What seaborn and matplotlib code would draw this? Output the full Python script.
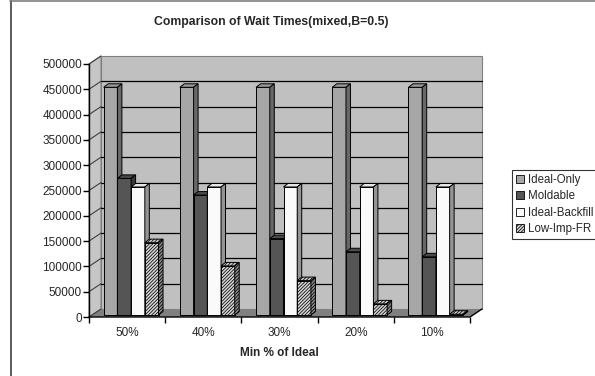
import numpy as np
import pandas as pd
import seaborn as sns
import matplotlib.pyplot as plt
from matplotlib.patches import Polygon, Patch
from matplotlib.lines import Line2D
from matplotlib.transforms import Affine2D, IdentityTransform

# ---- data -------------------------------------------------------------
categories = ["50%", "40%", "30%", "20%", "10%"]
series_names = ["Ideal-Only", "Moldable", "Ideal-Backfill", "Low-Imp-FR"]
ideal_only = [450000, 450000, 450000, 450000, 450000]
moldable = [270000, 237000, 151000, 125000, 115000]
ideal_backfill = [253000, 253000, 253000, 253000, 253000]
low_imp_fr = [143000, 97000, 68000, 22000, 1500]
y_ticks = [0, 50000, 100000, 150000, 200000, 250000, 300000, 350000, 400000, 450000, 500000]

df = pd.DataFrame({
    "category": categories * 4,
    "series": np.repeat(series_names, len(categories)),
    "value": ideal_only + moldable + ideal_backfill + low_imp_fr,
})

front_colors = {"Ideal-Only": "#a6a6a6", "Moldable": "#555555",
                "Ideal-Backfill": "#fafafa", "Low-Imp-FR": "#d8d8d8"}
top_colors = {"Ideal-Only": "#989898", "Moldable": "#4a4a4a",
              "Ideal-Backfill": "#e6e6e6", "Low-Imp-FR": "#d0d0d0"}
side_colors = {"Ideal-Only": "#686868", "Moldable": "#383838",
               "Ideal-Backfill": "#949494", "Low-Imp-FR": "#8a8a8a"}
hatches = {"Low-Imp-FR": "//////////"}

# ---- style --------------------------------------------------------------
sns.set_theme(style="white")
plt.rcParams["font.family"] = ["Liberation Sans", "DejaVu Sans"]
plt.rcParams["hatch.linewidth"] = 0.55

W, H = 595, 376
fig = plt.figure(figsize=(W / 100, H / 100), dpi=100)
fig.patch.set_facecolor("white")
ax = fig.add_axes([89 / W, (H - 317) / H, (470 - 89) / W, (317 - 64) / H])

sns.barplot(data=df, x="category", y="value", hue="series",
            order=categories, hue_order=series_names,
            palette=front_colors, saturation=1, width=0.72, dodge=True,
            legend=False, edgecolor="black", linewidth=0.7, ax=ax)

ax.set_xlim(-0.5, len(categories) - 0.5)
ax.set_ylim(0, 500000)
ax.patch.set_visible(False)

# wall depth and bar depth (pixels)
DX, DY = 12, 8
BX, BY = 4, 2
BDX, BDY = 4.5, 3.5

td = ax.transData
x0d, y0d = td.transform((-0.5, 0))
x1d, y1d = td.transform((len(categories) - 0.5, 500000))
ident = IdentityTransform()


def add_poly(pts, **kw):
    p = Polygon(pts, closed=True, transform=ident, clip_on=False, **kw)
    ax.add_artist(p)
    return p


# back wall, side wall and floor
add_poly([(x0d + DX, y0d + DY), (x1d + DX, y0d + DY), (x1d + DX, y1d + DY), (x0d + DX, y1d + DY)],
         facecolor="#c0c0c0", edgecolor="#808080", linewidth=0.8, zorder=0.1)
add_poly([(x0d, y0d), (x0d + DX, y0d + DY), (x0d + DX, y1d + DY), (x0d, y1d)],
         facecolor="#c6c6c6", edgecolor="#808080", linewidth=0.8, zorder=0.15)
add_poly([(x0d, y0d), (x1d, y0d), (x1d + DX, y0d + DY), (x0d + DX, y0d + DY)],
         facecolor="#808080", edgecolor="none", zorder=0.2)
for t in y_ticks[1:-1]:
    _, yt = td.transform((0, t))
    ax.add_artist(Line2D([x0d + DX, x1d + DX], [yt + DY, yt + DY], color="black",
                         linewidth=0.9, transform=ident, clip_on=False, zorder=0.3))
for t in y_ticks:
    _, yt = td.transform((0, t))
    ax.add_artist(Line2D([x0d, x0d + DX], [yt, yt + DY], color="#404040",
                         linewidth=0.8, transform=ident, clip_on=False, zorder=0.3))
ax.add_artist(Line2D([x0d, x1d, x1d + DX], [y0d, y0d, y0d + DY], color="black",
                     linewidth=1.0, transform=ident, clip_on=False, zorder=0.35))

# bars: shift front faces to mid depth and add top and side faces
bars = []
for cont, name in zip(ax.containers, series_names):
    for rect in cont.patches:
        bars.append((rect, name))
bars.sort(key=lambda b: b[0].get_x())
shift = Affine2D().translate(BX, BY)
for i, (rect, name) in enumerate(bars):
    z = 2 + i * 0.01
    rect.set_transform(td + shift)
    rect.set_zorder(z)
    rect.set_clip_on(False)
    if name in hatches:
        rect.set_hatch(hatches[name])
    xa, ya = td.transform((rect.get_x(), 0))
    xb, yb = td.transform((rect.get_x() + rect.get_width(), rect.get_height()))
    xa += BX; xb += BX; ya += BY; yb += BY
    add_poly([(xa, yb), (xb, yb), (xb + BDX, yb + BDY), (xa + BDX, yb + BDY)],
             facecolor=top_colors[name], edgecolor="black", linewidth=0.7,
             hatch=hatches.get(name), zorder=z)
    add_poly([(xb, ya), (xb + BDX, ya + BDY), (xb + BDX, yb + BDY), (xb, yb)],
             facecolor=side_colors[name], edgecolor="black", linewidth=0.7,
             hatch=hatches.get(name), zorder=z)

# axes and ticks
for s in ["top", "right", "bottom"]:
    ax.spines[s].set_visible(False)
ax.spines["left"].set_color("black")
ax.spines["left"].set_linewidth(1.0)
ax.set_yticks(y_ticks)
ax.set_yticklabels([str(t) for t in y_ticks])
ax.set_xticks(np.arange(-0.5, len(categories)), labels=[""] * (len(categories) + 1))
ax.set_xticks(np.arange(len(categories)), labels=categories, minor=True)
ax.tick_params(axis="y", which="major", direction="out", length=4, width=1.0,
               color="black", labelsize=8.5, pad=1, left=True)
ax.tick_params(axis="x", which="major", direction="out", length=4, width=1.0,
               color="black", bottom=True)
ax.tick_params(axis="x", which="minor", length=0, labelsize=8.5, pad=7)
ax.set_xlabel("Min % of Ideal", fontsize=8.5, fontweight="bold", labelpad=6)
ax.set_ylabel("")

fig.text(271 / W, 1 - 22 / H, "Comparison of Wait Times(mixed,B=0.5)",
         ha="center", va="center", fontsize=8.8, fontweight="bold")

# legend
handles = [Patch(facecolor=front_colors[n], edgecolor="black", linewidth=0.6,
                 hatch=hatches.get(n)) for n in series_names]
leg = fig.legend(handles, series_names, loc="upper left",
                 bbox_to_anchor=(512 / W, 1 - 170 / H), borderaxespad=0,
                 fontsize=8.3, frameon=True, fancybox=False, edgecolor="black",
                 handlelength=0.7, handleheight=0.7, handletextpad=0.3,
                 labelspacing=0.38, borderpad=0.35)
leg.get_frame().set_linewidth(0.8)

# outer frame
fig.add_artist(Line2D([10.5 / W, 10.5 / W], [0, 1], color="#404040", linewidth=1.2,
                      transform=fig.transFigure))
fig.add_artist(Line2D([10 / W, 1], [1 - 0.5 / H, 1 - 0.5 / H], color="#808080",
                      linewidth=1.2, transform=fig.transFigure))

fig.savefig("out.png", dpi=100)
